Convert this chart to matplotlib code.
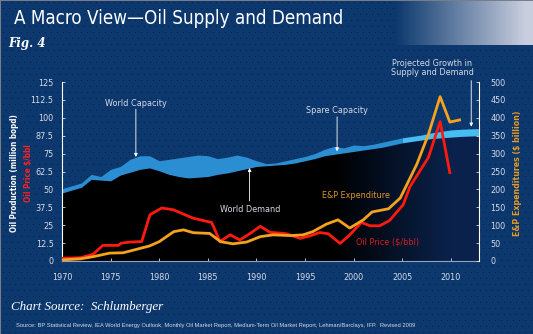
import numpy as np
import matplotlib
matplotlib.use("Agg")
import matplotlib.pyplot as plt

# world oil supply / demand (million bopd)
band_years = [1970, 1971, 1972, 1973, 1974, 1975, 1976, 1977, 1978, 1979, 1980,
              1981, 1982, 1983, 1984, 1985, 1986, 1987, 1988, 1989, 1990, 1991,
              1992, 1993, 1994, 1995, 1996, 1997, 1998, 1999, 2000, 2001, 2002,
              2003, 2004, 2005, 2006, 2007, 2008, 2009, 2010, 2011, 2012.9]
demand = [47.5, 49.5, 51.5, 57, 56.5, 56, 60, 62, 64, 65, 63,
          60.5, 59, 58, 58.5, 59, 60.5, 61.5, 63, 64.5, 66, 66.5,
          67, 67.5, 68.5, 70, 71.5, 73.5, 74.5, 75.5, 76.5, 77.5, 78.5,
          79.5, 81, 82.5, 83.5, 84.5, 85.5, 86, 86.5, 87, 87.5]
capacity = [50.5, 52.5, 54.5, 60.5, 59, 64, 66, 71, 73.5, 73.5, 70,
            71, 72, 73, 74, 73.5, 71.5, 72.5, 74, 72.5, 70, 68,
            68.5, 70, 71.5, 73, 75, 78, 80, 79, 81, 80.5, 81.5,
            83, 84.5, 86, 87, 88, 89.5, 90.5, 91.5, 92, 92.5]

# oil price ($/bbl)
price_x = [1970, 1971.9, 1973.2, 1974.2, 1975.8, 1976.1, 1977, 1978.2, 1979.05,
           1980.25, 1981.45, 1982.65, 1983.5, 1984.5, 1985.4, 1986.25, 1987.3,
           1988.3, 1989.3, 1990.4, 1991.4, 1992.4, 1993.1, 1994.5, 1995.5,
           1996.5, 1997.4, 1998.6, 1999.6, 2000.8, 2001.7, 2002.7, 2003.7,
           2005.1, 2005.8, 2007.7, 2008.9, 2009.9]
price = [1.9, 2.3, 4.7, 10.9, 10.9, 12.5, 13.2, 13.6, 32.3,
         37, 35.8, 32.3, 29.9, 28.3, 26.9, 13.6, 18.3,
         14.7, 19, 24.2, 20, 19.5, 19, 15.8, 17.5,
         19.9, 19, 12.3, 18.2, 26.9, 24.6, 24.6, 28.3,
         39.3, 51.9, 72.4, 97.3, 61.7]

# E&P expenditure ($ billion)
ep_x = [1970, 1971.9, 1973.2, 1974.9, 1976.3, 1978, 1979, 1980, 1981.5, 1982.5,
        1983.5, 1985.2, 1986.3, 1987.6, 1989, 1990.4, 1991.7, 1993.5, 1994.8,
        1995.8, 1997.2, 1998.4, 1999.6, 2001, 2001.9, 2003.6, 2004.8, 2006.5,
        2007.7, 2008.9, 2009.9, 2010.9]
ep = [3, 6, 12, 22, 23, 35, 42, 54, 82, 87,
      79, 77, 54, 48, 53, 68, 73, 71, 73,
      82, 103, 115, 92, 115, 137, 146, 176, 270,
      354, 459, 388, 394]

left_ticks = [0, 12.5, 25, 37.5, 50, 62.5, 75, 87.5, 100, 112.5, 125]
left_labels = ["0", "12.5", "25", "37.5", "50", "62.5", "75", "87.5", "100", "112.5", "125"]
right_ticks = [0, 50, 100, 150, 200, 250, 300, 350, 400, 450, 500]
year_ticks = [1970, 1975, 1980, 1985, 1990, 1995, 2000, 2005, 2010]

SANS = "DejaVu Sans"
LIGHT = "#d4dbe6"

W, H = 533, 334
fig = plt.figure(figsize=(W / 100, H / 100), dpi=100)

# navy backdrop with a dotted screen and the faded strip at the top right
navy = np.array([12, 56, 110]) / 255.0
bg = np.ones((H, W, 3)) * navy
dots = np.array([0, 32, 78]) / 255.0
for r in range(2, H, 6):
    off = 0 if (r // 6) % 2 == 0 else 3
    bg[r, off::6] = dots
xs = np.arange(W)
t = np.clip((xs - 395) / 130.0, 0, 1)
pale = np.array([200, 206, 222]) / 255.0
strip = navy[None, :] * (1 - t[:, None]) + pale[None, :] * t[:, None]
bg[:45] = np.where(t[None, :, None] > 0, strip[None, :, :], bg[:45])
bg[0, :] = bg[:, 0] = np.array([120, 125, 135]) / 255.0
fig.figimage(bg, 0, 0, origin="upper", zorder=-10)

ax = fig.add_axes([62 / W, (H - 261) / H, (479 - 62) / W, (261 - 82) / H])
ax.set_zorder(1)
ax.patch.set_alpha(0)
x0, x1 = 1970, 2012.9

# demand area: black fading into navy towards the right
poly = ax.fill_between(band_years, 0, demand, facecolor="none", edgecolor="none")
gx = np.linspace(x0, x1, 300)
gt = np.clip((gx - 1998) / 12.0, 0, 1)[:, None]
grad = (np.zeros(3) * (1 - gt) + np.array([10, 34, 75]) / 255.0 * gt)[None, :, :]
img = ax.imshow(grad, extent=[x0, x1, 0, 125], aspect="auto", zorder=1)
img.set_clip_path(poly.get_paths()[0], transform=ax.transData)

# spare capacity band
by = np.array(band_years)
ax.fill_between(band_years, demand, capacity, where=by <= 2005, color="#2c8ed2",
                lw=0, zorder=2)
ax.fill_between(band_years, demand, capacity, where=by >= 2005, color="#48bdf2",
                lw=0, zorder=2)

ax.plot(price_x, price, color="#ff1a10", lw=2.0, zorder=4, solid_joinstyle="round")

ax.set_xlim(x0, x1)
ax.set_ylim(0, 125)
ax.set_yticks(left_ticks)
ax.set_yticklabels(left_labels)
ax.set_xticks(year_ticks)
ax.tick_params(axis="both", colors=LIGHT, labelsize=6.5, direction="in", length=2,
               width=0.6, pad=6)
ax.tick_params(axis="x", pad=9)
for lab in ax.get_xticklabels() + ax.get_yticklabels():
    lab.set_family(SANS)
    lab.set_stretch("condensed")
ax.spines["top"].set_visible(False)
ax.spines["left"].set_color("white")
ax.spines["bottom"].set_color("#8fa3bf")
ax.spines["left"].set_linewidth(0.8)

ax2 = ax.twinx()
ax2.set_zorder(2)
ax2.patch.set_alpha(0)
ax2.plot(ep_x, ep, color="#f5a21e", lw=2.0, zorder=5, solid_joinstyle="round")
ax2.set_ylim(0, 500)
ax2.set_yticks(right_ticks)
ax2.tick_params(axis="y", colors=LIGHT, labelsize=6.5, direction="in", length=2,
                width=0.6, pad=8)
for lab in ax2.get_yticklabels():
    lab.set_family(SANS)
    lab.set_stretch("condensed")
ax2.spines["right"].set_color("white")
ax2.spines["right"].set_linewidth(0.8)
for side in ["top", "left", "bottom"]:
    ax2.spines[side].set_visible(False)

# annotations
note = dict(fontsize=6.5, family=SANS, stretch="condensed", ha="center",
            va="center", zorder=6)
arrow = dict(arrowstyle="-|>", color="white", lw=0.6, mutation_scale=5,
             shrinkA=0, shrinkB=0)
ax2.text(1977.6, 4 * 110.3, "World Capacity", color=LIGHT, **note)
ax2.annotate("", xy=(1977.6, 4 * 72.6), xytext=(1977.6, 4 * 106), arrowprops=arrow, zorder=6)
ax2.text(1989.4, 4 * 36.3, "World Demand", color=LIGHT, **note)
ax2.annotate("", xy=(1989.3, 4 * 65), xytext=(1989.3, 4 * 42), arrowprops=arrow, zorder=6)
ax2.text(1998.3, 4 * 105.4, "Spare Capacity", color=LIGHT, **note)
ax2.annotate("", xy=(1998.3, 4 * 76.5), xytext=(1998.3, 4 * 100.6), arrowprops=arrow, zorder=6)
ax2.text(2000.2, 4 * 45.4, "E&P Expenditure", color="#d8962e", **note)
ax2.text(2003.5, 4 * 13.3, "Oil Price ($/bbl)", color="#d42020", **note)
ax2.annotate("", xy=(2012.1, 4 * 93.8), xytext=(2012.1, 4 * 126), arrowprops=arrow,
             annotation_clip=False, zorder=6)
fig.text(432 / W, 1 - 68 / H, "Projected Growth in\nSupply and Demand", color=LIGHT,
         fontsize=6.5, family=SANS, stretch="condensed", ha="center", va="center",
         linespacing=1.0)

# axis titles
fig.text(15 / W, 1 - 173 / H, "Oil Production (million bopd)", color="white",
         fontsize=5.8, fontweight="bold", family=SANS, stretch="condensed",
         rotation=90, ha="center", va="center")
fig.text(28 / W, 1 - 173 / H, "Oil Price $/bbl", color="#ff2020",
         fontsize=5.9, fontweight="bold", family=SANS, stretch="condensed",
         rotation=90, ha="center", va="center")
fig.text(518 / W, 1 - 173 / H, "E&P Expenditures ($ billion)", color="#e89a20",
         fontsize=6.3, fontweight="bold", family=SANS, stretch="condensed",
         rotation=90, ha="center", va="center")

# headings and sources
fig.text(14 / W, 1 - 18 / H, "A Macro View\u2014Oil Supply and Demand", color="white",
         fontsize=13.5, family=SANS, stretch="condensed", ha="left", va="center")
fig.text(8 / W, 1 - 44 / H, "Fig. 4", color="white", fontsize=8.5, fontweight="bold",
         style="italic", family="DejaVu Serif", ha="left", va="center")
fig.text(11 / W, 1 - 307 / H, "Chart Source:  Schlumberger", color="white",
         fontsize=9.4, style="italic", family="Liberation Serif", ha="left", va="center")
fig.text(16 / W, 1 - 326 / H,
         "Source: BP Statistical Review, IEA World Energy Outlook, Monthly Oil Market "
         "Report, Medium-Term Oil Market Report, Lehman/Barclays, IFP.  Revised 2009",
         color=LIGHT, fontsize=4.15, family="Liberation Sans", ha="left", va="center")

fig.savefig("out.png", dpi=100)
